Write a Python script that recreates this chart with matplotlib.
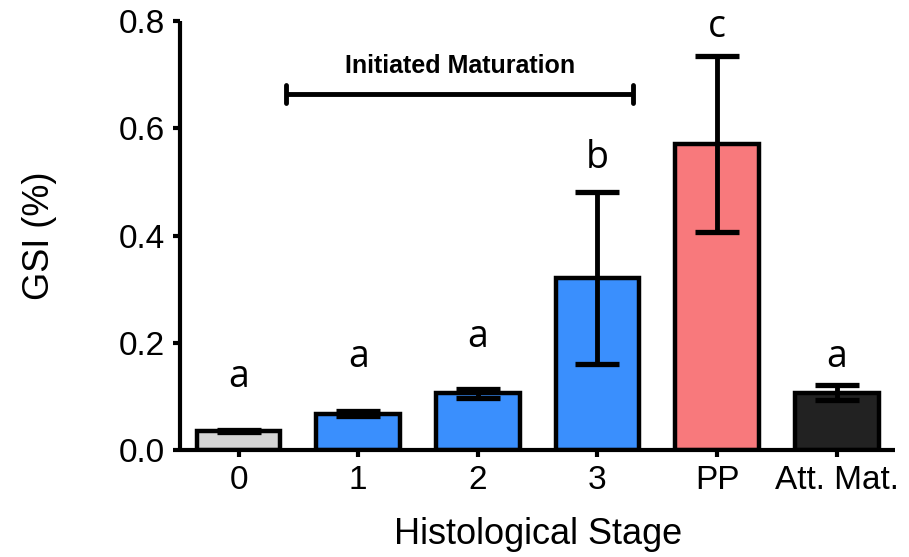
import matplotlib
matplotlib.use("Agg")
import matplotlib.pyplot as plt

# data
stages = ["0", "1", "2", "3", "PP", "Att. Mat."]
gsi_mean = [0.035, 0.068, 0.106, 0.321, 0.571, 0.107]
gsi_err = [0.002, 0.004, 0.008, 0.161, 0.164, 0.014]
letters = ["a", "a", "a", "b", "c", "a"]
bar_colors = ["#d4d4d4", "#3a8ffd", "#3a8ffd", "#3a8ffd", "#f8797c", "#222222"]
letter_pad = [43, 44, 42, 24, 19, 18]  # pixels above error cap

plt.rcParams["font.family"] = ["Liberation Sans", "DejaVu Sans"]

fig = plt.figure(figsize=(9.09, 5.57), dpi=100)
ax = fig.add_axes([0.198, 0.192, 0.787, 0.770])

x = list(range(len(stages)))
ax.bar(x, gsi_mean, width=0.7, color=bar_colors, edgecolor="black",
       linewidth=3.2, zorder=2)
ax.errorbar(x, gsi_mean, yerr=gsi_err, fmt="none", ecolor="black",
            elinewidth=3.5, capsize=16, capthick=3.8, zorder=3)

for xi, m, e, lab, pad in zip(x, gsi_mean, gsi_err, letters, letter_pad):
    ax.annotate(lab, (xi, m + e), xytext=(0, pad), textcoords="offset pixels",
                ha="center", va="baseline", fontsize=27, family="Open Sans")

# bracket over stages 1-3
ax.plot([0.4, 3.3], [0.664, 0.664], color="black", lw=3.5,
        solid_capstyle="butt", zorder=3)
for bx in (0.4, 3.3):
    ax.plot([bx, bx], [0.648, 0.681], color="black", lw=3.5,
            solid_capstyle="round", zorder=3)
ax.text(1.85, 0.703, "Initiated Maturation", ha="center", va="baseline",
        fontsize=18, fontweight="bold")

ax.set_xlim(-0.49, 5.49)
ax.set_ylim(0, 0.8)
ax.set_yticks([0.0, 0.2, 0.4, 0.6, 0.8])
ax.set_yticklabels(["0.0", "0.2", "0.4", "0.6", "0.8"])
ax.set_xticks(x)
ax.set_xticklabels(stages)

for side in ("top", "right"):
    ax.spines[side].set_visible(False)
for side in ("left", "bottom"):
    ax.spines[side].set_linewidth(3)
    ax.spines[side].set_capstyle("butt")

ax.tick_params(axis="both", width=3, length=5, labelsize=24, pad=6,
               direction="out")
ax.set_xlabel("Histological Stage", fontsize=26, labelpad=15)
ax.set_ylabel("GSI (%)", fontsize=26, labelpad=44)

fig.savefig("out.png", dpi=100)
